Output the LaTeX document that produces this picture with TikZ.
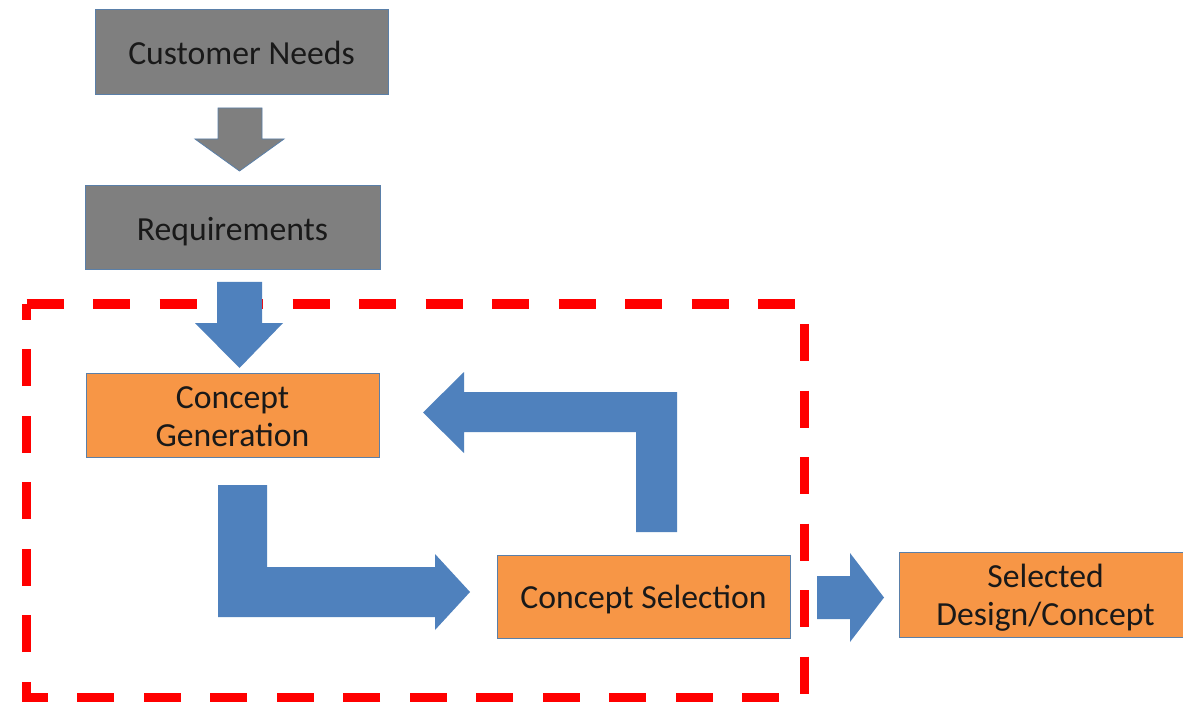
\documentclass[tikz,border=0pt]{standalone}
\usepackage{fontspec}
\setmainfont{Carlito}
\definecolor{boxgray}{HTML}{7F7F7F}
\definecolor{boxorange}{HTML}{F79646}
\definecolor{arrowblue}{HTML}{4F81BD}
\definecolor{edgeblue}{HTML}{5A7FA8}
\definecolor{dashred}{HTML}{FF0000}
\newcommand{\boxone}[1]{\raisebox{0pt}[24.5pt][0pt]{#1}}
\newcommand{\boxtwo}[2]{\raisebox{0pt}[24.5pt][38pt]{\begin{tabular}[t]{@{}c@{}}#1\\#2\end{tabular}}}
\tikzset{
  graybox/.style={draw=edgeblue, line width=1pt, fill=boxgray, inner sep=0pt, align=center,
    font=\fontsize{33.7}{38}\selectfont, text=black!90},
  orangebox/.style={draw=edgeblue, line width=1pt, fill=boxorange, inner sep=0pt, align=center,
    font=\fontsize{33.7}{38}\selectfont, text=black!90},
  grayarrow/.style={fill=boxgray, draw=edgeblue, line width=0.8pt, line join=miter},
  bluearrow/.style={fill=arrowblue, draw=none},
  reddash/.style={draw=dashred, line width=9pt, dash pattern=on 37pt off 29.5pt, line join=miter}
}
\begin{document}
\begin{tikzpicture}[x=1pt, y=-1pt]
\useasboundingbox (0,0) rectangle (1183,703);
\clip (0,0) rectangle (1183,703);
\fill[white] (0,0) rectangle (1183,703);

% boxes
\node[graybox, minimum width=293pt, minimum height=85pt] (needs) at (241.5,52.5) {\boxone{Customer Needs}};
\node[graybox, minimum width=295pt, minimum height=84pt] (req) at (232.5,228) {\boxone{Requirements}};
\node[orangebox, minimum width=293pt, minimum height=84pt] (gen) at (232.5,415) {\boxtwo{Concept}{Generation}};
\node[orangebox, minimum width=293pt, minimum height=83pt] (sel) at (643.5,596.5) {\boxone{Concept Selection}};
\node[orangebox, minimum width=293pt, minimum height=85pt] (fin) at (1045.5,594.5) {\boxtwo{Selected}{Design/Concept}};

% gray block arrow: Customer Needs -> Requirements
\draw[grayarrow] (218,108) -- (262,108) -- (262,139) -- (284,139) -- (239.5,171) -- (195,139) -- (218,139) -- cycle;

% red dashed frame
\draw[reddash] (26.5,304) -- (804.5,304) -- (804.5,697.5) -- (26.5,697.5) -- cycle;

% blue block arrow: Requirements -> Concept Generation
\fill[bluearrow] (217,282) -- (262,282) -- (262,323) -- (283,323) -- (239.5,368) -- (195,323) -- (217,323) -- cycle;

% L arrow: Concept Generation -> Concept Selection
\fill[bluearrow] (218,485) -- (267,485) -- (267,567) -- (435,567) -- (435,554) -- (470,592) -- (435,630) -- (435,617) -- (218,617) -- cycle;

% L arrow: Concept Selection -> Concept Generation
\fill[bluearrow] (677,532) -- (636,532) -- (636,432) -- (464,432) -- (464,453) -- (423,412.5) -- (464,372) -- (464,392) -- (677,392) -- cycle;

% arrow: Concept Selection -> Selected Design/Concept
\fill[bluearrow] (817,576) -- (850,576) -- (850,553) -- (884,597.5) -- (850,642) -- (850,619) -- (817,619) -- cycle;
\end{tikzpicture}
\end{document}
